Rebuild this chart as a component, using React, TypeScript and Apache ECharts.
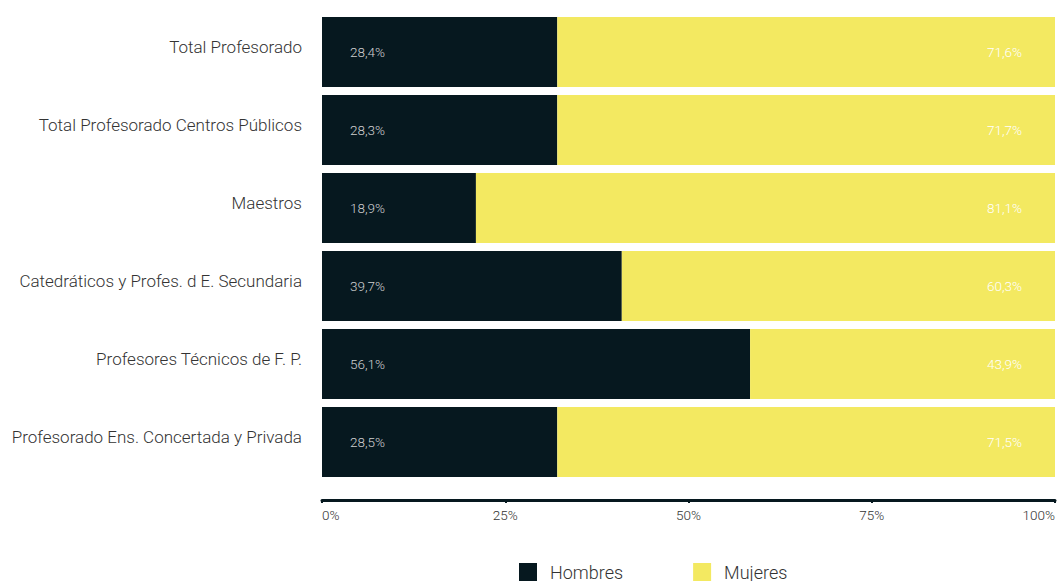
import React, { useEffect, useRef } from "react";
import * as echarts from "echarts";

const categories = [
  "Total Profesorado",
  "Total Profesorado Centros Públicos",
  "Maestros",
  "Catedráticos y Profes. d E. Secundaria",
  "Profesores Técnicos de F. P.",
  "Profesorado Ens. Concertada y Privada",
];
// bar lengths as drawn in the reference (share of the bar, %)
const hombresBar = [32.1, 32.1, 21.0, 40.9, 58.4, 32.1];
const mujeresBar = [67.9, 67.9, 79.0, 59.1, 41.6, 67.9];
// printed labels
const hombresLabels = ["28,4%", "28,3%", "18,9%", "39,7%", "56,1%", "28,5%"];
const mujeresLabels = ["71,6%", "71,7%", "81,1%", "60,3%", "43,9%", "71,5%"];
const xTicks = ["0%", "25%", "50%", "75%", "100%"];

const DARK = "#06181f";
const YELLOW = "#f3e961";
const FONT = "Roboto";

export default function App() {
  const ref = useRef<HTMLDivElement>(null);
  useEffect(() => {
    document.body.style.margin = "0";
    const chart = echarts.init(ref.current!, null, { renderer: "svg" });
    chart.setOption({
      animation: false,
      textStyle: { fontFamily: FONT },
      grid: { left: 322, right: 2, top: 13, bottom: 100, containLabel: false },
      legend: {
        left: 519,
        top: 563,
        padding: 0,
        itemWidth: 18,
        itemHeight: 18,
        itemGap: 70,
        icon: "rect",
        textStyle: { fontSize: 18, fontWeight: 300, color: "#333", fontFamily: FONT, padding: [0, 0, 0, 8] },
        data: ["Hombres", "Mujeres"],
      },
      xAxis: {
        type: "value",
        min: 0,
        max: 100,
        interval: 25,
        offset: 19,
        axisLine: { show: true, lineStyle: { color: DARK, width: 3 } },
        axisTick: { show: true, length: 3, lineStyle: { color: DARK, width: 2 } },
        splitLine: { show: false },
        axisLabel: {
          margin: 8,
          fontSize: 13.5,
          fontWeight: 300,
          color: "#333",
          fontFamily: FONT,
          alignMinLabel: "left",
          alignMaxLabel: "right",
          formatter: (v: number) => xTicks[Math.round(v / 25)] ?? "",
        },
      },
      yAxis: {
        type: "category",
        data: categories,
        inverse: true,
        axisLine: { show: false },
        axisTick: { show: false },
        axisLabel: {
          margin: 20,
          fontSize: 17,
          fontWeight: 300,
          color: "#333",
          fontFamily: FONT,
          verticalAlign: "bottom",
          lineHeight: 10,
        },
      },
      series: [
        {
          name: "Hombres",
          type: "bar",
          stack: "total",
          barCategoryGap: "10%",
          data: hombresBar,
          itemStyle: { color: DARK },
          label: {
            show: true,
            position: "insideLeft",
            distance: 28,
            fontSize: 13.5,
            fontWeight: 300,
            color: "#cfcfcf",
            fontFamily: FONT,
            formatter: (p: any) => hombresLabels[p.dataIndex],
          },
        },
        {
          name: "Mujeres",
          type: "bar",
          stack: "total",
          barCategoryGap: "10%",
          data: mujeresBar,
          itemStyle: { color: YELLOW },
          label: {
            show: true,
            position: "insideRight",
            distance: 33,
            fontSize: 13.5,
            fontWeight: 300,
            color: "#ffffff",
            fontFamily: FONT,
            formatter: (p: any) => mujeresLabels[p.dataIndex],
          },
        },
      ],
    });
    return () => chart.dispose();
  }, []);
  return <div ref={ref} style={{ width: 1058, height: 581 }} />;
}
